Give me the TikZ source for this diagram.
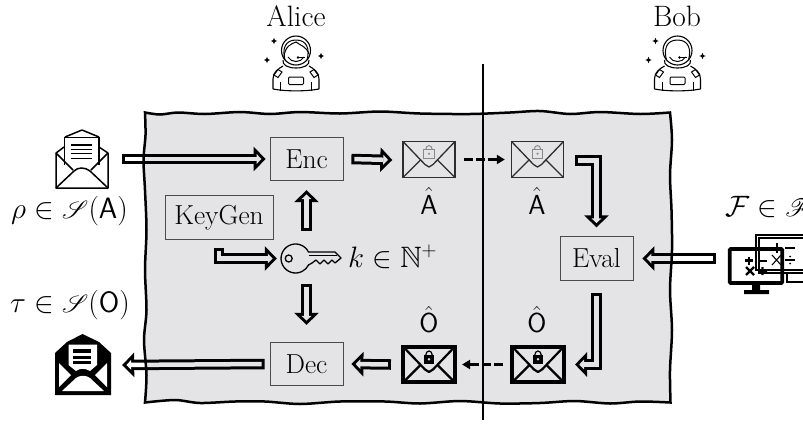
\documentclass[tikz,border=0pt]{standalone}
\usepackage{fix-cm}
\usepackage{amsmath,amssymb,amsfonts}
\usepackage{mathrsfs}
\usetikzlibrary{arrows.meta}
\definecolor{regiongray}{RGB}{228,227,229}
\definecolor{boxgray}{RGB}{85,85,85}
\newcommand{\figfont}{\fontsize{27.5}{33}\selectfont}
\newcommand{\namefont}{\fontsize{29.5}{35}\selectfont}
\tikzset{
  procbox/.style={draw=boxgray,line width=0.8pt,inner sep=0pt,minimum height=43.5pt,font=\figfont},
  iconbox/.style={inner sep=0pt,minimum width=#1},
  mailbox/.style={draw=black!80,line width=1.4pt,inner sep=0pt,minimum width=52pt,minimum height=36.5pt},
  sealbox/.style={draw=black,line width=3.6pt,inner sep=0pt,minimum width=52.5pt,minimum height=35.5pt},
  lbl/.style={inner sep=0pt,anchor=base,font=\figfont},
  mathlbl/.style={inner sep=0pt,anchor=base west,font=\namefont},
  hollow/.style={draw=black,line width=10.5pt,line join=miter,
    -{Triangle[length=12pt,width=24pt]},
    postaction={draw=white,line width=4.5pt,shorten <=3pt,shorten >=4.2pt,
      -{Triangle[length=4.8pt,width=9.6pt]}}},
  dashline/.style={draw=black,line width=2.4pt,dash pattern=on 9pt off 3pt,
    -{Triangle[length=8pt,width=9pt]}},
  flaps/.pic={
    \draw[line width=#1,line join=round] (-26,-18)--(-4,5)--(0,7.5)--(4,5)--(26,-18);
    \draw[line width=#1] (-26,18)--(-8,0) (26,18)--(8,0);
  },
  padlock/.pic={
    \draw[line width=1.2pt] (-3.2,-3.5) arc (180:360:3.2 and 4);
    \fill (-5.3,-3.5) rectangle (5.3,5);
    \fill[white] (0,0.7) circle (1.3);
  },
  palelock/.pic={
    \draw[black!40,line width=0.9pt] (-3.2,-3.5) arc (180:360:3.2 and 4);
    \draw[black!40,line width=0.9pt] (-5.3,-3.5) rectangle (5.3,5);
    \fill[black!40] (0,0.7) circle (1.2);
  },
  spaceman/.pic={
    \draw[line width=1.1pt] (0,0) ++(0,-0.5) circle (14.5);
    \draw[line width=1pt] (-11,9) .. controls (-14,-2) and (-11,-11) .. (0,-11) .. controls (11,-11) and (14,-2) .. (11,9);
    \draw[line width=1pt] (-8,6) .. controls (-5,12) and (5,12) .. (8,6);
    \draw[line width=1.1pt] (-13,9) .. controls (-14,14) and (-8,17) .. (0,17) .. controls (8,17) and (14,14) .. (13,9);
    \draw[line width=1.1pt] (-23,38) -- (-23,28) .. controls (-23,21) and (-18,18) .. (-13,15);
    \draw[line width=1.1pt] (23,38) -- (23,28) .. controls (23,21) and (18,18) .. (13,15);
    \draw[line width=1.1pt] (-23,38) .. controls (-10,40.5) and (10,40.5) .. (23,38);
    \draw[line width=1pt] (-15.5,31) -- (-15.5,39.5) (15.5,31) -- (15.5,39.5);
    \draw[line width=1pt,rounded corners=1pt] (-7.5,26) rectangle (7.5,33.5);
    \draw[line width=1pt] (-22,24)--(-18,18.5)--(-14,21)--(-18,26.5)--cycle;
    \draw[line width=1pt] (22,24)--(18,18.5)--(14,21)--(18,26.5)--cycle;
    \draw[line width=1pt] (2,6.5) -- (9,6.5);
    \fill (2,6.5) circle (1.3);
    \foreach \sx/\sy in {-22/-10,-29/9,25/5}
      \fill (\sx,\sy-3.2)--(\sx+0.9,\sy-0.9)--(\sx+3.2,\sy)--(\sx+0.9,\sy+0.9)--(\sx,\sy+3.2)--(\sx-0.9,\sy+0.9)--(\sx-3.2,\sy)--(\sx-0.9,\sy-0.9)--cycle;
  }
}
\begin{document}
\begin{tikzpicture}[x=1pt,y=-1pt]
   \clip (0,0) rectangle (803,424);
   \fill[white] (0,0) rectangle (803,424);
   % names on top
   \node[lbl,font=\namefont] (alice) at (296,26) {Alice};
   \node[lbl,font=\namefont] (bob) at (677,26) {Bob};
   \pic at (296,51) {spaceman};
   \draw[line width=1pt] (284,57) .. controls (285,46) and (291,44) .. (296,42) .. controls (301,46) and (306,46) .. (309,54);
   \pic at (677.5,51) {spaceman};
   % boxes
   \node[procbox,minimum width=73pt] (enc) at (306.5,159) {Enc};
   \node[procbox,minimum width=108pt] (keygen) at (219,217.5) {KeyGen};
   \node[procbox,minimum width=73pt] (dec) at (306.5,364) {Dec};
   \node[procbox,minimum width=73pt] (eval) at (596.5,258.5) {Eval};
   % sealed mails
   \node[mailbox] (mailA) at (429,159.5) {};
   \node[mailbox] (mailAbob) at (537.5,159.5) {};
   \node[sealbox] (mailO) at (429,364.5) {};
   \node[sealbox] (mailObob) at (538,364.5) {};
   \pic[black!80] at (429,159.5) {flaps=1.3pt};
   \pic[black!80] at (537.5,159.5) {flaps=1.3pt};
   \pic at (429,364.5) {flaps=2.2pt};
   \pic at (538,364.5) {flaps=2.2pt};
   \pic at (429,153) {palelock};
   \pic at (537.5,153) {palelock};
   \pic at (429,358.5) {padlock};
   \pic at (538,358.5) {padlock};
   \node[lbl] (hatA) at (429,214) {\(\hat{\mathsf{A}}\)};
   \node[lbl] (hatAbob) at (537,214) {\(\hat{\mathsf{A}}\)};
   \node[lbl] (hatO) at (429,332.5) {\(\hat{\mathsf{O}}\)};
   \node[lbl] (hatObob) at (537,332.5) {\(\hat{\mathsf{O}}\)};
   % open mail, plain
   \node[iconbox=52pt,minimum height=58pt] (msgin) at (82,159) {};
   \draw[line width=1.5pt,line join=round] (64,147)--(56,153)--(56,188)--(108,188)--(108,153)--(99,147);
   \draw[line width=1.5pt,line join=round] (65,137)--(82,130)--(99,137);
   \draw[line width=1.5pt] (64.5,165)--(64.5,137.5)--(99,137.5)--(99,165);
   \draw[line width=1.5pt] (56,188)--(74,171) .. controls (78,167) and (85,167) .. (90,171) -- (108,188);
   \draw[line width=1.5pt] (56,153)--(73,170) (108,153)--(91,170);
   \draw[line width=1.2pt] (71,145)--(92,145) (71,149.4)--(92,149.4) (71,153.8)--(92,153.8) (71,158.2)--(92,158.2);
   % open mail, bold
   \node[iconbox=56pt,minimum height=61pt] (msgout) at (83,364.5) {};
   \fill (55,353)--(67,342)--(82.5,334)--(99,342)--(111,353)--(111,395)--(55,395)--cycle;
   \fill[white] (68.5,344.5)--(97,344.5)--(97,365)--(90,371) .. controls (85,368) and (80,368) .. (76,371) -- (68.5,365)--cycle;
   \fill[white] (59,363)--(71,375)--(59,387)--cycle;
   \fill[white] (107,363)--(95,375)--(107,387)--cycle;
   \fill[white] (62,391)--(76,378) .. controls (80,375) and (86,375) .. (90,378) -- (104,391)--cycle;
   \fill (73,349)--(91,349)--(91,352.5)--(73,352.5)--cycle;
   \fill (73,355.5)--(91,355.5)--(91,358.5)--(73,358.5)--cycle;
   \fill (73,361)--(91,361)--(91,363.5)--(73,363.5)--cycle;
   % key
   \node[iconbox=60pt,minimum height=29pt] (key) at (311,258.5) {};
   \draw[line width=1.3pt,line join=round] (308.5,252) arc (-26.6:-333.4:14.5)
     --(312,263)--(316,260)--(320,264)--(324,260)--(328,264)--(332,260)--(335,263)--(341,258)--(335,252)--cycle;
   \draw[line width=1.3pt] (288.7,258.5) circle (3.5);
   \draw[line width=1pt] (309,255.7)--(337,255.7);
   % monitors
   \draw[line width=1.1pt] (803,235)--(756,235)--(756,270)--(803,270);
   \draw[line width=1.1pt] (803,238)--(759,238)--(759,273)--(803,273);
   \draw[line width=1.1pt] (782,273)--(782,282) (787,273)--(787,282)--(803,282);
   \draw[line width=1.1pt] (777,243)--(777,253) (772,248)--(782,248) (785,248)--(795,248);
   \draw[line width=1.1pt] (772,255)--(781,265) (781,255)--(772,265);
   \draw[line width=1.1pt] (785,260)--(795,260);
   \fill (790,256.5) circle (1) (790,263.5) circle (1);
   \node[draw=black,line width=3.6pt,rounded corners=1pt,inner sep=0pt,minimum width=52.5pt,minimum height=34pt] (monitor) at (756,266) {};
   \fill (752,284)--(760,284)--(760,290)--(769,290)--(769,294)--(744,294)--(744,290)--(752,290)--cycle;
   \draw[line width=2.2pt] (745,260.5)--(753,260.5) (749,256.5)--(749,264.5) (758,261)--(767,261);
   \draw[line width=2.2pt] (746,267)--(754,275) (754,267)--(746,275) (758,271)--(767,271) (762.5,267)--(762.5,275);
   % labels
   \node[mathlbl] (rho) at (11,218) {\(\rho \in \mathscr{S}(\mathsf{A})\)};
   \node[mathlbl] (tau) at (10,312) {\(\tau \in \mathscr{S}(\mathsf{O})\)};
   \node[mathlbl] (keylbl) at (348,267) {\(k \in \mathbb{N}^{+}\)};
   \node[mathlbl] (func) at (725,216) {\(\mathcal{F} \in \mathscr{F}\)};
   % arrows
   \draw[hollow] ([xshift=14pt]msgin.east) -- ([xshift=-4pt]enc.west);
   \draw[hollow] ([xshift=8pt]enc.east) -- ([xshift=-10pt,yshift=-0.5pt]mailA.west);
   \draw[hollow] ([xshift=11pt,yshift=-1pt]mailAbob.east) -| ([yshift=9pt]eval.north);
   \draw[hollow] ([xshift=-12pt,yshift=7.5pt]monitor.west) -- ([xshift=9pt]eval.east);
   \draw[hollow] ([yshift=-12pt]eval.south) |- ([xshift=9pt]mailObob.east);
   \draw[hollow] ([xshift=-10pt]mailO.west) -- ([xshift=8pt]dec.east);
   \draw[hollow] ([xshift=-5pt]dec.west) -- ([xshift=11pt,yshift=-0.5pt]msgout.east);
   \draw[hollow] ([yshift=-8pt]keygen.south) |- ([xshift=-4pt]key.west);
   \draw[hollow] ([xshift=-4.5pt,yshift=13pt]key.north) -- ([yshift=-9pt]enc.south);
   \draw[hollow] ([xshift=-4.5pt,yshift=-11pt]key.south) -- ([yshift=17pt]dec.north);
   \draw[dashline] ([xshift=8pt]mailA.east) -- ([xshift=-6pt]mailAbob.west);
   \draw[dashline] ([xshift=-7pt]mailObob.west) -- ([xshift=5pt]mailO.east);
   % shaded part goes over all of it, multiply keeps what is under it
   \draw[fill=regiongray,line width=2.5pt,line join=miter,blend mode=multiply]
     plot[smooth] coordinates {(145,112.5) (160,114.5) (178,112.5) (205,114) (240,112) (270,114) (300,112) (340,113.5) (380,111.5) (420,113.5) (470,114) (510,112.5) (540,111) (570,114) (600,112) (640,114) (670,112.5)}
     -- plot[smooth] coordinates {(670,112.5) (672,140) (670,175) (671.5,210) (672,250) (670,290) (672,330) (670,370) (670.5,402.5)}
     -- plot[smooth] coordinates {(670.5,402.5) (640,401.5) (610,403.5) (575,401) (540,403) (500,403.5) (460,401) (420,403.5) (385,401.5) (340,401.5) (300,404) (265,401.5) (235,401.5) (200,403) (175,400) (145,402.5)}
     -- plot[smooth] coordinates {(145,402.5) (146.5,375) (144,340) (146.5,310) (145,270) (146.5,230) (145,190) (143.5,160) (145.5,135) (145,112.5)}
     -- cycle;
   \draw[line width=2.7pt] (483,64) -- (483,420);
\end{tikzpicture}
\end{document}
